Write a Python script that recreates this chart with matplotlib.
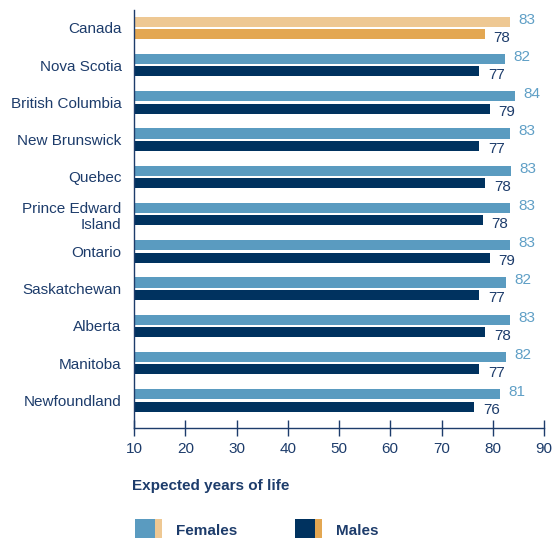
"""Life expectancy at birth by province, females vs males (horizontal bars)."""

import matplotlib

matplotlib.use("Agg")

import matplotlib.pyplot as plt
from matplotlib.patches import Rectangle

plt.rcParams["font.family"] = ["Liberation Sans", "DejaVu Sans"]

PROVINCES = [
    "Canada",
    "Nova Scotia",
    "British Columbia",
    "New Brunswick",
    "Quebec",
    "Prince Edward\nIsland",
    "Ontario",
    "Saskatchewan",
    "Alberta",
    "Manitoba",
    "Newfoundland",
]
FEMALES = [83.4, 82.4, 84.4, 83.3, 83.5, 83.3, 83.4, 82.5, 83.3, 82.5, 81.4]
MALES = [78.4, 77.4, 79.4, 77.4, 78.5, 78.0, 79.4, 77.4, 78.5, 77.4, 76.4]
FEMALE_LABELS = ["83", "82", "84", "83", "83", "83", "83", "82", "83", "82", "81"]
MALE_LABELS = ["78", "77", "79", "77", "78", "78", "79", "77", "78", "77", "76"]
X_TICKS = [10, 20, 30, 40, 50, 60, 70, 80, 90]

NAVY = "#00325f"
TEXT = "#1d3c6b"
BLUE = "#5a9bc0"
LABEL_BLUE = "#5f9fc6"
BEIGE = "#eec893"
ORANGE = "#e3a752"
FS = 11

W, H = 555, 538
fig = plt.figure(figsize=(W / 100, H / 100), dpi=100)
ax = fig.add_axes([134 / W, (H - 428) / H, (544 - 134) / W, (428 - 10) / H])

bar_h = 0.27
off = 0.165
for i, (prov, f, m) in enumerate(zip(PROVINCES, FEMALES, MALES)):
    fc = BEIGE if i == 0 else BLUE
    mc = ORANGE if i == 0 else NAVY
    ax.barh(i - off, f - 10, left=10, height=bar_h, color=fc, linewidth=0)
    ax.barh(i + off, m - 10, left=10, height=bar_h, color=mc, linewidth=0)
    ax.annotate(FEMALE_LABELS[i], (f, i - off), xytext=(6, 1.5),
                textcoords="offset points", ha="left", va="center",
                fontsize=FS, color=LABEL_BLUE)
    ax.annotate(MALE_LABELS[i], (m, i + off), xytext=(6.5, -2.5),
                textcoords="offset points", ha="left", va="center",
                fontsize=FS, color=TEXT)

ax.set_xlim(10, 90)
ax.set_ylim(10.74, -0.48)
ax.set_xticks(X_TICKS)
ax.set_yticks(range(len(PROVINCES)))
ax.set_yticklabels(PROVINCES, fontsize=FS, color=TEXT)
ax.tick_params(axis="y", left=False, length=0, pad=9)
ax.tick_params(axis="x", direction="inout", length=12, width=1, color=TEXT,
               labelsize=FS, labelcolor=TEXT, pad=4)
for side in ("top", "right"):
    ax.spines[side].set_visible(False)
for side in ("left", "bottom"):
    ax.spines[side].set_color(TEXT)
    ax.spines[side].set_linewidth(1)
ax.spines["left"].set_bounds(10.74, -0.48)

fig.text(132 / W, 1 - 486 / H, "Expected years of life", fontsize=FS,
         fontweight="bold", color=TEXT, ha="left", va="center")

# legend: split swatches (province colour + Canada colour)
for x0, main, accent, label in [(135, BLUE, BEIGE, "Females"), (295, NAVY, ORANGE, "Males")]:
    fig.patches.append(Rectangle((x0 / W, 0), 20 / W, 19 / H, transform=fig.transFigure,
                                 facecolor=main, linewidth=0))
    fig.patches.append(Rectangle(((x0 + 20) / W, 0), 7 / W, 19 / H, transform=fig.transFigure,
                                 facecolor=accent, linewidth=0))
    fig.text((x0 + 41) / W, 1 - 531 / H, label, fontsize=FS, fontweight="bold",
             color=TEXT, ha="left", va="center")

fig.savefig("out.png", dpi=100, facecolor="white")
